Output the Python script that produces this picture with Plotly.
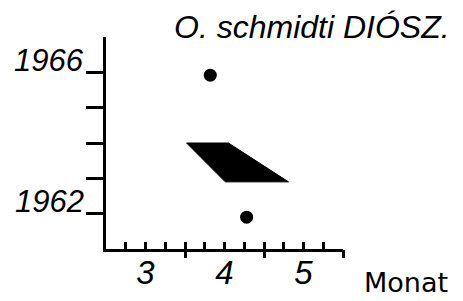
import plotly.graph_objects as go

# Data
dot_month = [3.82, 4.28]
dot_year = [1965.92, 1961.9]
poly_month = [3.52, 4.05, 4.81, 4.01]
poly_year = [1964.0, 1964.0, 1962.9, 1962.9]

x_label_vals = [3, 4, 5]
x_label_text = ["3", "4", "5"]
x_minor_vals = [2.75, 3.25, 3.5, 3.75, 4.25, 4.5, 4.75, 5.25, 5.5]
x_major_vals = [3.5, 4.5, 5.5]
y_tick_vals = [1962, 1963, 1964, 1965, 1966]
y_label_vals = [1962, 1966]
y_label_text = ["1962", "1966"]

title_text = "O. schmidti DIÓSZ."
x_title = "Monat"

ital = dict(family="Liberation Sans, Arial, sans-serif", color="black", style="italic")

fig = go.Figure()
fig.add_trace(go.Scatter(
    x=poly_month + [poly_month[0]], y=poly_year + [poly_year[0]],
    mode="lines", fill="toself", fillcolor="black",
    line=dict(color="black", width=1), hoverinfo="skip", showlegend=False))
fig.add_trace(go.Scatter(
    x=dot_month, y=dot_year, mode="markers",
    marker=dict(color="black", size=13), showlegend=False))
# invisible trace to activate overlay axis
fig.add_trace(go.Scatter(x=[x_major_vals[0]], y=[y_tick_vals[0]], xaxis="x2",
                         mode="markers", marker=dict(opacity=0), showlegend=False,
                         hoverinfo="skip"))

fig.update_layout(
    width=463, height=301,
    margin=dict(l=106, r=120, t=37, b=52),
    paper_bgcolor="white", plot_bgcolor="white",
    xaxis=dict(range=[2.5, 5.5], showgrid=False, zeroline=False, automargin=False,
               showline=True, linewidth=3, linecolor="black",
               tickmode="array", tickvals=x_label_vals, ticktext=x_label_text,
               ticks="inside", ticklen=7, tickwidth=2.5, tickcolor="black",
               tickfont=dict(size=33, **ital), ticklabelstandoff=-8,
               minor=dict(tickmode="array", tickvals=x_minor_vals, ticks="inside",
                          ticklen=7, tickwidth=2.5, tickcolor="black", showgrid=False)),
    xaxis2=dict(range=[2.5, 5.5], overlaying="x", anchor="y", side="bottom",
                showgrid=False, zeroline=False, showline=False, automargin=False,
                tickmode="array", tickvals=x_major_vals, showticklabels=False,
                ticks="outside", ticklen=8, tickwidth=3, tickcolor="black"),
    yaxis=dict(range=[1961, 1967], showgrid=False, zeroline=False, automargin=False,
               showline=True, linewidth=3, linecolor="black",
               tickmode="array", tickvals=y_tick_vals, showticklabels=False,
               ticks="outside", ticklen=17, tickwidth=3, tickcolor="black"),
)

for v, t in zip(y_label_vals, y_label_text):
    fig.add_annotation(x=-0.085, xref="paper", y=v, yref="y", text=t,
                       showarrow=False, xanchor="right", yanchor="middle",
                       yshift=12, font=dict(size=31, **ital))

fig.add_annotation(x=1.46, xref="paper", y=1.047, yref="paper", text=title_text,
                   showarrow=False, xanchor="right", yanchor="middle",
                   font=dict(size=32, **ital))
fig.add_annotation(x=1.08, xref="paper", y=-0.16, yref="paper", text=x_title,
                   showarrow=False, xanchor="left", yanchor="middle",
                   font=dict(size=27, family="DejaVu Sans, sans-serif", color="black"))

fig.write_html("out.html", config={"displayModeBar": False},
               post_script="document.body.style.margin='0';document.body.style.overflow='hidden';")
